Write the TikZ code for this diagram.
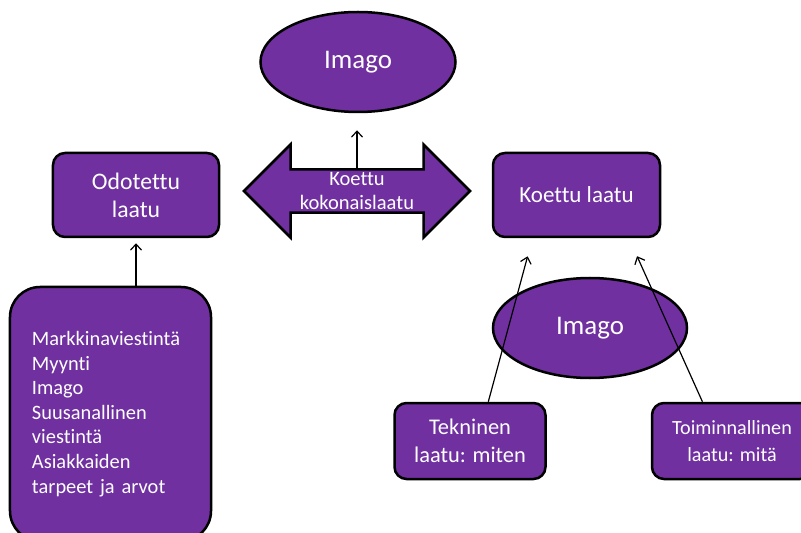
\documentclass[tikz,border=0pt]{standalone}
\usepackage{fontspec}
\setmainfont[Ligatures=NoCommon]{Carlito}
\usetikzlibrary{arrows.meta,positioning,shapes.geometric,shapes.arrows,calc}
\definecolor{quality}{HTML}{7030A0}

\begin{document}
\begin{tikzpicture}[
  x=1bp, y=-1bp,
  unit/.style={rectangle, draw, line width=2.5bp, rounded corners=12bp,
               align=center, fill=quality, text=white, inner sep=0pt},
  image/.style={ellipse, draw, line width=2.5bp, fill=quality, text=white,
                minimum width=195bp, minimum height=100bp, inner sep=0pt,
                font=\fontsize{27}{30}\selectfont},
  factors/.style={unit, rounded corners=30bp, align=left, text width=157bp,
                  inner xsep=22bp, minimum height=254bp,
                  font=\fontsize{20.5}{24.7}\selectfont},
  total/.style={double arrow, draw, line width=2.5bp, fill=quality, text=white,
                align=center, inner sep=0pt, minimum height=226bp,
                minimum width=93bp, double arrow head extend=23bp,
                font=\fontsize{20.6}{24}\selectfont},
  stream/.style={-{Straight Barb[length=6bp,width=11bp]}, line width=1.2bp},
]
\useasboundingbox (0,0) rectangle (801,533);

\node[image] (imago) at (358,62) {Imago};
\node[total] (kok) at (357,191) {Koettu\\kokonaislaatu};
\node[unit, minimum width=166bp, minimum height=84bp,
      font=\fontsize{23.8}{28}\selectfont] (odotettu) at (136,195) {Odotettu\\laatu};
\node[unit, minimum width=167bp, minimum height=84bp,
      font=\fontsize{23.1}{28}\selectfont] (koettu) at (576.5,195) {Koettu laatu};
\node[image, minimum width=194bp] (imago2) at (590,328) {Imago};
\node[unit, minimum width=151bp, minimum height=76bp,
      font=\fontsize{22.5}{28}\selectfont] (tek) at (470,441) {Tekninen\\laatu: miten};
\node[unit, minimum width=160bp, minimum height=76bp,
      font=\fontsize{20.2}{27}\selectfont] (toim) at (732,441) {Toiminnallinen\\laatu: mitä};
\node[factors, minimum width=201bp] (tekijat) at (110.5,414)
  {Markkinaviestintä\\Myynti\\Imago\\Suusanallinen\\viestintä\\Asiakkaiden\\tarpeet ja arvot};

\draw[stream, shorten >=17bp] (kok.north) -- (kok.north |- imago.south);
\draw[stream, shorten >=5bp] (odotettu.south |- tekijat.north) -- (odotettu.south);
\draw[stream, shorten >=18.7bp] (tek.65) -- ($(koettu.south)+(-44,0)$);
\draw[stream, shorten >=19.7bp] (toim.127) -- ($(koettu.south)+(52.5,0)$);

\end{tikzpicture}
\end{document}
